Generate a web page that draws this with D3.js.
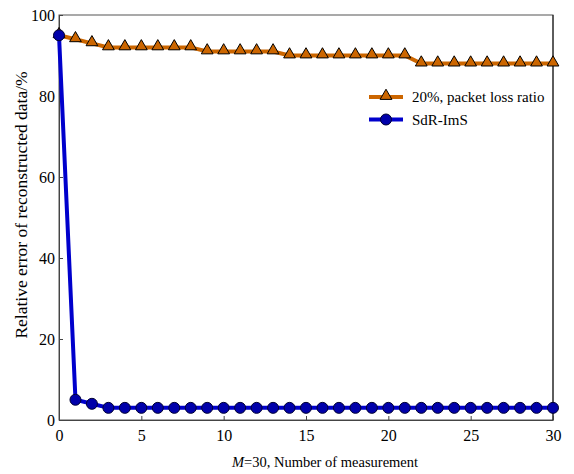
<!DOCTYPE html>
<html>
<head>
<meta charset="utf-8">
<script src="https://cdn.jsdelivr.net/npm/d3@7"></script>
<style>
  body { margin: 0; background: #fff; }
  text { font-family: "Liberation Serif", "Times New Roman", serif; }
</style>
</head>
<body>
<svg id="chart" width="574" height="474"></svg>
<script>
  // measurement index
  var measurements = d3.range(0, 31);
  var lossValues = [95, 94, 93, 92, 92, 92, 92, 92, 92, 91, 91, 91, 91, 91, 90, 90, 90, 90, 90, 90, 90, 90,
                    88, 88, 88, 88, 88, 88, 88, 88, 88];
  var sdrValues = [95, 5, 4, 3, 3, 3, 3, 3, 3, 3, 3, 3, 3, 3, 3, 3, 3, 3, 3, 3, 3, 3, 3, 3, 3, 3, 3, 3, 3, 3, 3];
  var xTicks = [0, 5, 10, 15, 20, 25, 30];
  var yTicks = [0, 20, 40, 60, 80, 100];
  var seriesNames = ['20%, packet loss ratio', 'SdR-ImS'];

  (function() {
    var orange = '#CC6600', blue = '#0000CC';
    var svg = d3.select('#chart');
    var mLeft = 59, mRight = 553, mTop = 15, mBottom = 420;

    var x = d3.scaleLinear().domain([0, 30]).range([mLeft, mRight]);
    var y = d3.scaleLinear().domain([0, 100]).range([mBottom, mTop]);

    // frame
    svg.append('rect')
      .attr('x', mLeft).attr('y', mTop)
      .attr('width', mRight - mLeft).attr('height', mBottom - mTop)
      .attr('fill', 'none').attr('stroke', '#555').attr('stroke-width', 1);
    svg.append('line')
      .attr('x1', mRight).attr('x2', mRight).attr('y1', mTop).attr('y2', mBottom)
      .attr('stroke', '#111');

    var xAxis = svg.append('g')
      .attr('transform', 'translate(0,' + mBottom + ')')
      .call(d3.axisBottom(x).tickValues(xTicks).tickSizeInner(-4).tickSizeOuter(0).tickPadding(10));
    var yAxis = svg.append('g')
      .attr('transform', 'translate(' + mLeft + ',0)')
      .call(d3.axisLeft(y).tickValues(yTicks).tickSizeInner(-4).tickSizeOuter(0).tickPadding(4));
    [xAxis, yAxis].forEach(function(a) {
      a.select('.domain').attr('stroke', '#444');
      a.selectAll('.tick line').attr('stroke', '#444');
      a.selectAll('.tick text').attr('font-size', 16).attr('fill', '#000')
        .style('font-family', '"Liberation Serif", serif');
    });
    xAxis.selectAll('.tick text').attr('dy', '0.71em');

    var line = d3.line()
      .x(function(d, i) { return x(measurements[i]); })
      .y(function(d) { return y(d); });

    svg.append('path').datum(lossValues)
      .attr('d', line).attr('fill', 'none')
      .attr('stroke', orange).attr('stroke-width', 4);

    var tri = d3.symbol().type(d3.symbolTriangle).size(60);
    svg.append('g').selectAll('path')
      .data(lossValues).enter().append('path')
      .attr('d', tri)
      .attr('transform', function(d, i) { return 'translate(' + x(measurements[i]) + ',' + (y(d) - 1) + ')'; })
      .attr('fill', orange).attr('stroke', '#000').attr('stroke-width', 1);

    svg.append('path').datum(sdrValues)
      .attr('d', line).attr('fill', 'none')
      .attr('stroke', blue).attr('stroke-width', 4);

    svg.append('g').selectAll('circle')
      .data(sdrValues).enter().append('circle')
      .attr('cx', function(d, i) { return x(measurements[i]); })
      .attr('cy', function(d) { return y(d); })
      .attr('r', 5.5)
      .attr('fill', '#0000AA').attr('stroke', '#000033').attr('stroke-width', 1);

    // legend
    var legend = svg.append('g').attr('transform', 'translate(369,97)');
    seriesNames.forEach(function(name, i) {
      var g = legend.append('g').attr('transform', 'translate(0,' + (i * 22.5) + ')');
      g.append('line').attr('x1', 0).attr('x2', 34).attr('y1', 0).attr('y2', 0)
        .attr('stroke', i === 0 ? orange : blue).attr('stroke-width', 4);
      if (i === 0) {
        g.append('path').attr('d', tri).attr('transform', 'translate(17,-1)')
          .attr('fill', orange).attr('stroke', '#000');
      } else {
        g.append('circle').attr('cx', 17).attr('cy', 0).attr('r', 5.5)
          .attr('fill', '#0000AA').attr('stroke', '#000033');
      }
      g.append('text').attr('x', 43).attr('y', 0).attr('dy', '0.35em')
        .attr('font-size', 15).text(name);
    });

    // axis titles
    svg.append('text')
      .attr('transform', 'translate(27,205) rotate(-90)')
      .attr('text-anchor', 'middle').attr('font-size', 17.5)
      .text('Relative error of reconstructed data/%');

    var xt = svg.append('text')
      .attr('x', 325).attr('y', 467)
      .attr('text-anchor', 'middle').attr('font-size', 14.5);
    xt.append('tspan').attr('font-style', 'italic').text('M');
    xt.append('tspan').text('=30, Number of measurement');
  })();
</script>
</body>
</html>
